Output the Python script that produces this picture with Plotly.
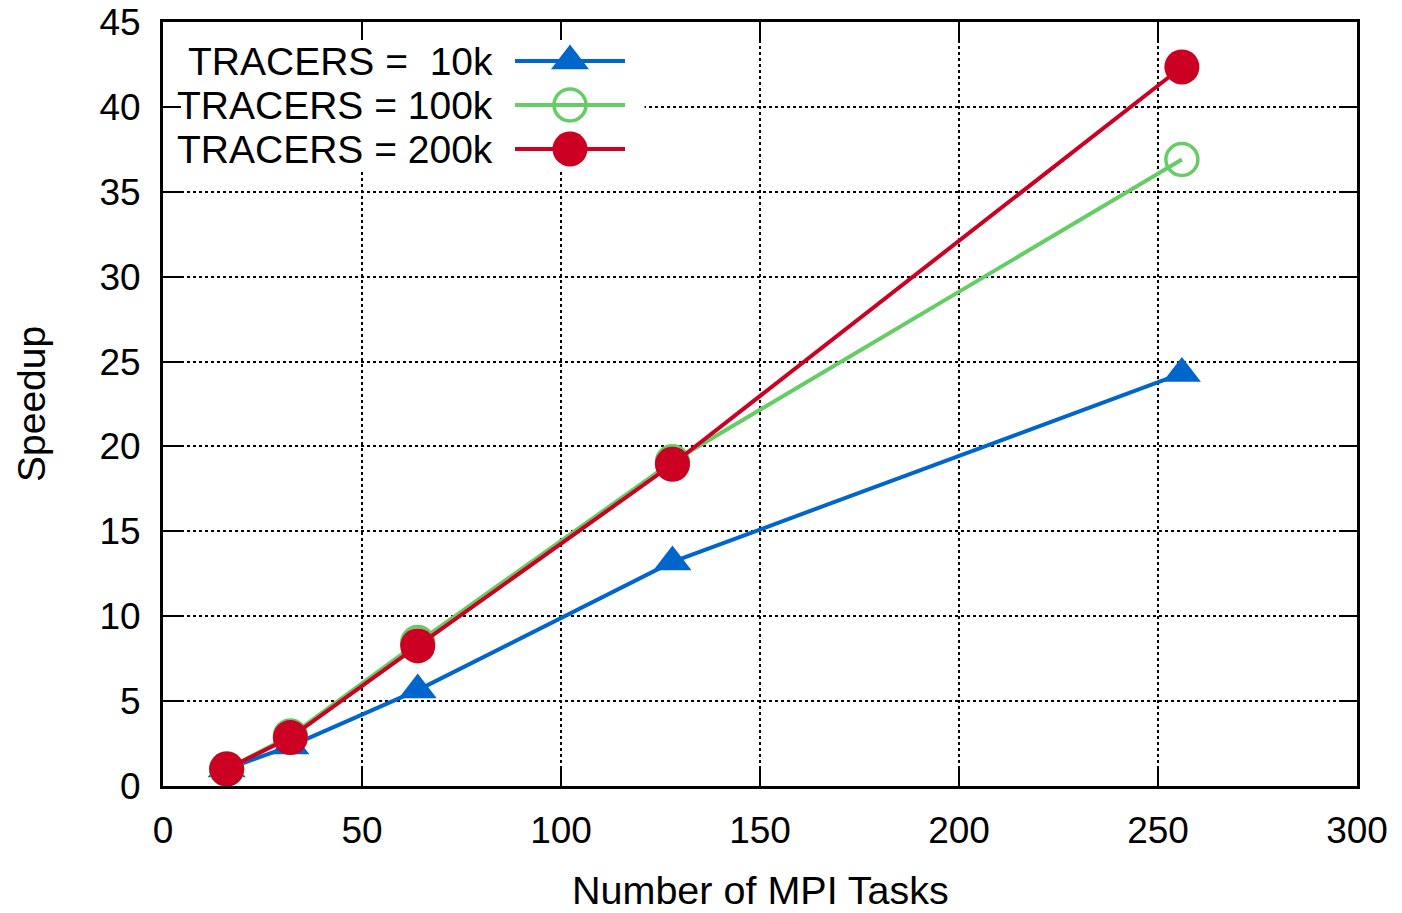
import plotly.graph_objects as go

# Data
tasks = [16, 32, 64, 128, 256]
speedup_10k = [1.0, 2.35, 5.65, 13.2, 24.3]
speedup_100k = [1.0, 2.95, 8.45, 19.1, 36.9]
speedup_200k = [1.0, 2.85, 8.25, 18.95, 42.35]

series_names = ["TRACERS =  10k", "TRACERS = 100k", "TRACERS = 200k"]
colors = ["#0066cc", "#66cc66", "#cc0022"]
symbols = ["triangle-up", "circle-open", "circle"]
series_values = [speedup_10k, speedup_100k, speedup_200k]
x_title = "Number of MPI Tasks"
y_title = "Speedup"

FONT = "Liberation Sans, Arial, sans-serif"
FS_TICK = 37
FS = 39

# page body has an 8px margin; compensate so the plot area lands at 163..1357 x 22..786
OFF = 8
W, H = 1402 - OFF, 913 - OFF
L, R, T, B = 163, 1357, 22, 786   # target pixel frame in the window


def px_to_paper(px, py):
    return (px - L) / (R - L), (B - py) / (B - T)


def mk(sym, col):
    if sym == "circle-open":
        return dict(symbol=sym, size=32, color=col, line=dict(width=3.5, color=col))
    if sym == "triangle-up":
        return dict(symbol=sym, size=33, color=col)
    return dict(symbol=sym, size=35, color=col)


fig = go.Figure()

for name, vals, col, sym in zip(series_names, series_values, colors, symbols):
    fig.add_trace(go.Scatter(x=tasks, y=vals, mode="lines+markers", name=name,
                             line=dict(color=col, width=4), marker=mk(sym, col),
                             showlegend=False, cliponaxis=False))

# Manual gnuplot-style legend (text, then sample) on an overlay axis in window-pixel units
rows_y = [61, 105, 149]
for name, col, sym, ry in zip(series_names, colors, symbols, rows_y):
    fig.add_trace(go.Scatter(x=[515, 625], y=[ry, ry], mode="lines", xaxis="x2", yaxis="y2",
                             line=dict(color=col, width=4), showlegend=False, hoverinfo="skip"))
    fig.add_trace(go.Scatter(x=[570], y=[ry], mode="markers", xaxis="x2", yaxis="y2",
                             marker=mk(sym, col), showlegend=False, hoverinfo="skip"))
    fig.add_annotation(x=495, y=ry, xref="x2", yref="y2", text=name.replace("  ", "&nbsp; "),
                       showarrow=False, xanchor="right", yanchor="middle",
                       font=dict(family=FONT, size=FS, color="black"))

# axis titles (paper coordinates derived from target pixel positions)
xt_x, xt_y = px_to_paper(760, 890)
yt_x, yt_y = px_to_paper(31, 404)
fig.add_annotation(x=xt_x, y=xt_y, xref="paper", yref="paper", text=x_title, showarrow=False,
                   xanchor="center", yanchor="middle", font=dict(family=FONT, size=39.5, color="black"))
fig.add_annotation(x=yt_x, y=yt_y, xref="paper", yref="paper", text=y_title, showarrow=False,
                   textangle=-90, xanchor="center", yanchor="middle",
                   font=dict(family=FONT, size=39, color="black"))

# white legend box hiding the grid (x 0..121, y 36.2..45 in data units)
fig.add_shape(type="rect", xref="x", yref="y", x0=0.5, x1=121, y0=36.2, y1=44.9,
              fillcolor="white", line=dict(width=0), layer="between")

axis_common = dict(
    showline=True, linecolor="black", linewidth=3, mirror="allticks",
    ticks="inside", ticklen=18, tickwidth=2, tickcolor="black",
    showgrid=True, gridcolor="black", gridwidth=1.5, griddash="dot",
    zeroline=False, tickfont=dict(family=FONT, size=FS_TICK, color="black"),
    automargin=False, ticklabeloverflow="allow",
)

fig.update_layout(
    width=W, height=H,
    margin=dict(l=L - OFF, r=1402 - R, t=T - OFF, b=913 - B),
    paper_bgcolor="white", plot_bgcolor="white",
    font=dict(family=FONT, size=FS, color="black"),
    xaxis=dict(range=[0, 300], tickvals=[0, 50, 100, 150, 200, 250, 300],
               ticklabelstandoff=10, **axis_common),
    yaxis=dict(range=[0, 45], tickvals=list(range(0, 50, 5)),
               ticklabelstandoff=12, **axis_common),
    xaxis2=dict(range=[L, R], overlaying="x", visible=False, fixedrange=True),
    yaxis2=dict(range=[B, T], overlaying="y", visible=False, fixedrange=True),
    showlegend=False,
)

fig.write_html("out.html")
